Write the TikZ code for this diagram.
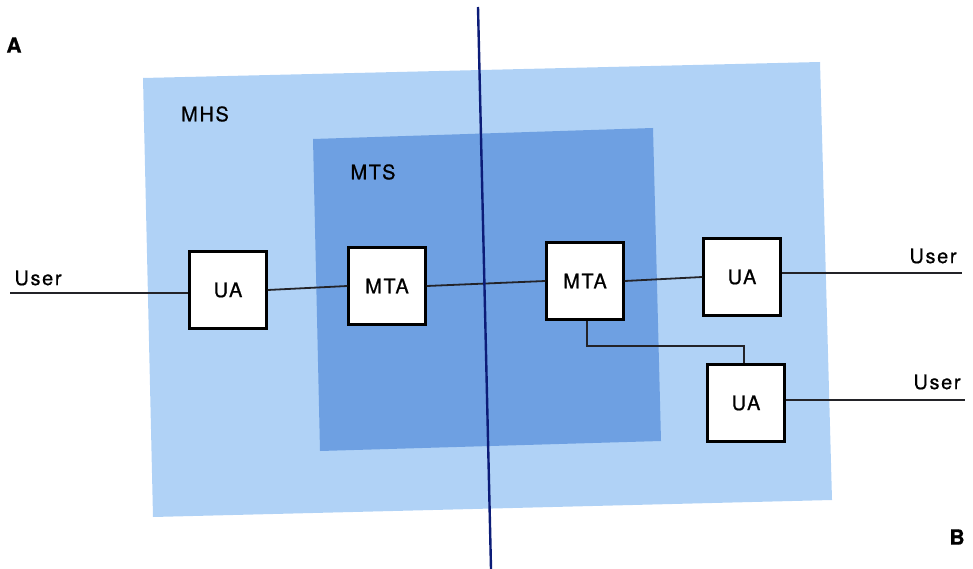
\documentclass[tikz,border=0pt]{standalone}
\usepackage{fontspec}
\setmainfont{TeX Gyre Heros}[LetterSpace=8,FakeBold=0.7]
\definecolor{mhsblue}{RGB}{176,210,246}
\definecolor{mtsblue}{RGB}{110,160,226}
\definecolor{navyline}{RGB}{12,28,120}
\definecolor{wire}{RGB}{35,35,40}
\tikzset{
  agent/.style={draw=black, line width=2.4pt, fill=white, minimum width=77pt, minimum height=77pt, inner sep=0pt, font=\fontsize{20}{22}\selectfont},
  lbl/.style={inner sep=0pt, font=\fontsize{20}{22}\selectfont},
  corner/.style={inner sep=0pt, font=\fontsize{21}{24}\selectfont\bfseries},
  conn/.style={draw=wire, line width=1.8pt}
}
\begin{document}
\begin{tikzpicture}[x=1pt,y=-1pt]
\useasboundingbox (0,0) rectangle (973,569);
% regions
\fill[mhsblue] (143,78) -- (820,62) -- (832,500) -- (153,517) -- cycle;
\fill[mtsblue] (313,139) -- (653,128) -- (661,441) -- (320,451) -- cycle;
% boxes
\node[agent] (ua1) at (228,290) {UA};
\node[agent] (mta1) at (387,286) {MTA};
\node[agent] (mta2) at (585,281) {MTA};
\node[agent] (ua2) at (742,277) {UA};
\node[agent] (ua3) at (746,403) {UA};
% free ends
\coordinate (u1) at (10,293);
\coordinate (u2) at (962,273);
\coordinate (u3) at (965,400);
% connectors
\draw[conn] (u1) -- (ua1.west |- u1);
\draw[conn] (ua1.east) -- (mta1.west);
\draw[conn] (mta1.east) -- (mta2.west);
\draw[conn] (mta2.east) -- (ua2.west);
\draw[conn] (ua2.east |- u2) -- (u2);
\draw[conn] (ua3.east |- u3) -- (u3);
\draw[conn] (mta2.south -| 587,0) -- (587,346) -- (744,346) -- (ua3.north -| 744,0);
% boundary line
\coordinate (top) at (478,7);
\coordinate (bot) at (491,569);
\draw[navyline, line width=2.4pt] (top) -- (bot);
% labels
\node[lbl] (user1) at (38,278) {User};
\node[lbl] (user2) at (933,256) {User};
\node[lbl] (user3) at (937,382) {User};
\node[lbl] (mhs) at (205,114) {MHS};
\node[lbl] (mts) at (373,172) {MTS};
\node[corner] (a) at (14,45) {A};
\node[corner] (b) at (957,537) {B};
\end{tikzpicture}
\end{document}
